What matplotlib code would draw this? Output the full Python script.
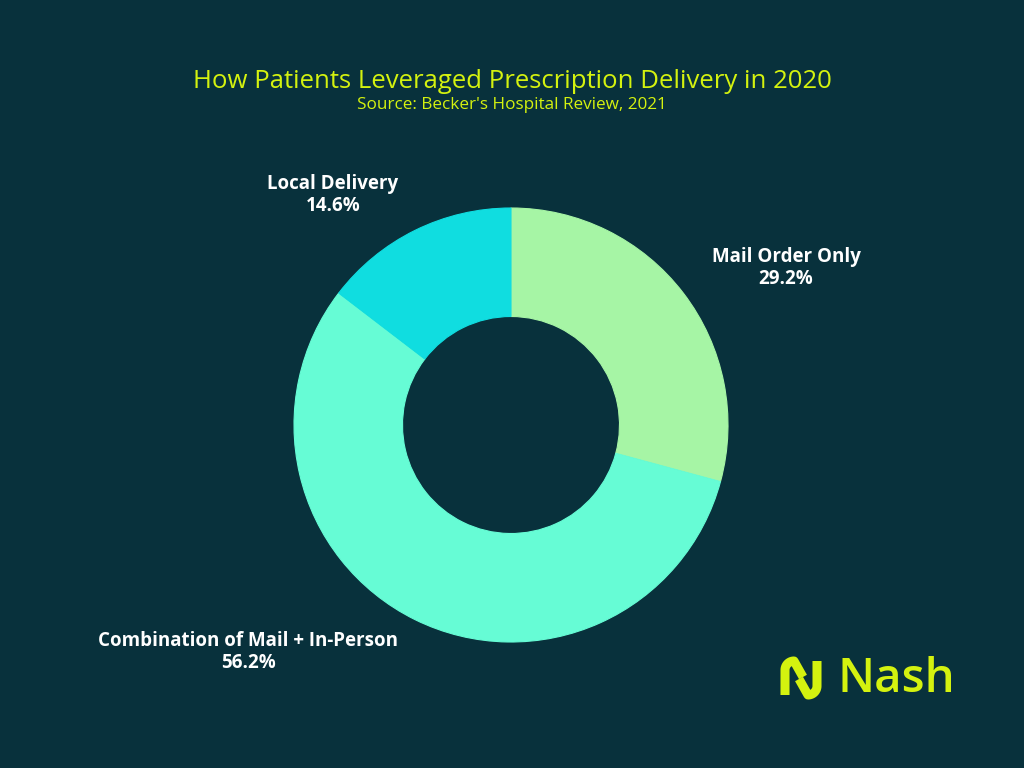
import numpy as np
import matplotlib
matplotlib.use("Agg")
import matplotlib.pyplot as plt

# data
categories = ["Mail Order Only", "Combination of Mail + In-Person", "Local Delivery"]
shares = [29.2, 56.2, 14.6]

BG = "#08313c"
LIME = "#d4f20f"
COLORS = ["#a6f5a5", "#66fcd5", "#10dde0"]

# label anchor points in pixel space (x, y from top)
labelPos = [(786, 268), (248, 652), (333, 195)]

fig = plt.figure(figsize=(10.24, 7.68), dpi=100, facecolor=BG)
ax = fig.add_axes([0, 0, 1, 1])
ax.set_facecolor(BG)

cx, cy, r = 511, 768 - 425, 217
wedges, _ = ax.pie(shares, colors=COLORS, startangle=90, counterclock=False,
                   center=(cx, cy), radius=r, frame=True,
                   wedgeprops=dict(width=r * 0.5, linewidth=0.8))
for w, c in zip(wedges, COLORS):
    w.set_edgecolor(c)
ax.set_xlim(0, 1024)
ax.set_ylim(0, 768)
ax.set_aspect("equal")
ax.axis("off")

for name, val, (lx, ly) in zip(categories, shares, labelPos):
    ax.text(lx, 768 - ly, f"{name}\n{val:.1f}%", ha="center", va="center",
            color="white", fontsize=13.5, fontweight="bold", family="Open Sans",
            linespacing=1.15)

fig.text(0.5, 1 - 81 / 768, "How Patients Leveraged Prescription Delivery in 2020",
         ha="center", va="center", color=LIME, fontsize=18.5, family="Open Sans")
fig.text(0.5, 1 - 105 / 768, "Source: Becker's Hospital Review, 2021",
         ha="center", va="center", color=LIME, fontsize=12.3, family="Open Sans")

# Nash logo
lw = 6.5
t = np.linspace(np.pi, np.pi / 2, 20)
x1 = [785, 785] + list(794 + 9 * np.cos(t)) + [803]
y1 = [768 - v for v in [695, 670]] + list(768 - (670 - 9 * np.sin(t))) + [768 - 677]
ax.plot(x1, y1, color=LIME, lw=lw, solid_capstyle="butt", solid_joinstyle="round")
t2 = np.linspace(0, -np.pi / 2, 20)
x2 = [817, 817] + list(808 + 9 * np.cos(t2)) + [799]
y2 = [768 - v for v in [661, 686]] + list(768 - (686 - 9 * np.sin(t2))) + [768 - 679]
ax.plot(x2, y2, color=LIME, lw=lw, solid_capstyle="butt", solid_joinstyle="round")
ax.text(837, 768 - 679, "Nash", ha="left", va="center", color=LIME,
        fontsize=34, family="Open Sans", fontweight="semibold")

fig.savefig("out.png", dpi=100, facecolor=BG)
